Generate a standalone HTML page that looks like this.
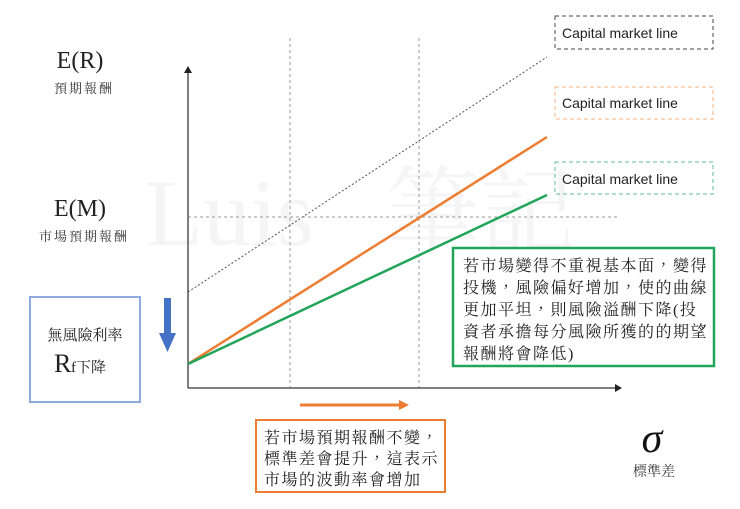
<!DOCTYPE html>
<html><head><meta charset="utf-8"><style>
html,body{margin:0;padding:0;background:#fff;}
svg text{font-family:"Liberation Serif","Noto Serif CJK TC","Noto Serif CJK SC",serif;}
.s{font-family:"Liberation Sans","Noto Sans CJK TC",sans-serif !important;}
</style></head><body>
<svg width="740" height="504" viewBox="0 0 740 504" xmlns="http://www.w3.org/2000/svg">
<rect width="740" height="504" fill="#fff"/>
<text x="145" y="245" font-size="95" fill="#f5f5f5">Luis</text>
<text x="385" y="245" font-size="95" fill="#f5f5f5">筆記</text>
<line x1="290" y1="38" x2="290" y2="388" stroke="#999" stroke-width="1" stroke-dasharray="3,3"/>
<line x1="419" y1="38" x2="419" y2="388" stroke="#999" stroke-width="1" stroke-dasharray="3,3"/>
<line x1="188" y1="217" x2="617" y2="217" stroke="#999" stroke-width="1" stroke-dasharray="3,3"/>
<line x1="188" y1="388" x2="188" y2="72" stroke="#555" stroke-width="1.5"/>
<polygon points="188,66 184,73 192,73" fill="#222"/>
<line x1="188" y1="388" x2="616" y2="388" stroke="#555" stroke-width="1.5"/>
<polygon points="622,388 615,384 615,392" fill="#222"/>
<line x1="188" y1="292" x2="547" y2="57" stroke="#555" stroke-width="1" stroke-dasharray="2,2"/>
<line x1="188" y1="364" x2="547" y2="137" stroke="#ED7D31" stroke-width="2.5"/>
<line x1="188" y1="364" x2="547" y2="195" stroke="#22A55A" stroke-width="2.5"/>
<rect x="555" y="16" width="158" height="33" fill="none" stroke="#444" stroke-dasharray="4,3"/>
<text x="562" y="38" font-size="14" class="s" fill="#222">Capital market line</text>
<rect x="555" y="87" width="158" height="32" fill="none" stroke="#F4B183" stroke-dasharray="4,3"/>
<text x="562" y="108" font-size="14" class="s" fill="#222">Capital market line</text>
<rect x="555" y="162" width="158" height="32" fill="none" stroke="#5FB89A" stroke-dasharray="4,3"/>
<text x="562" y="184" font-size="14" class="s" fill="#222">Capital market line</text>
<text x="80" y="68" font-size="24" text-anchor="middle" fill="#222">E(R)</text>
<text x="84" y="93" font-size="13" text-anchor="middle" fill="#333" letter-spacing="2">預期報酬</text>
<text x="80" y="216" font-size="24" text-anchor="middle" fill="#222">E(M)</text>
<text x="84" y="241" font-size="13" text-anchor="middle" fill="#333" letter-spacing="2">市場預期報酬</text>
<rect x="30" y="297" width="110" height="105" fill="none" stroke="#8FAADC" stroke-width="2"/>
<text x="85" y="340" font-size="15" text-anchor="middle" fill="#222">無風險利率</text>
<text x="54" y="372" font-size="26" fill="#222">R</text><text x="71" y="372" font-size="15" fill="#222">f下降</text>
<rect x="164" y="298" width="7" height="36" fill="#4472C4"/>
<polygon points="159,333 176,333 167.5,352" fill="#4472C4"/>
<line x1="300" y1="405" x2="400" y2="405" stroke="#ED7D31" stroke-width="3"/>
<polygon points="409,405 399,400 399,410" fill="#ED7D31"/>
<rect x="256" y="420" width="189" height="72" fill="#fff" stroke="#ED7D31" stroke-width="2"/>
<text x="264" y="443" font-size="16" fill="#222" letter-spacing="1.5">若市場預期報酬不變，</text>
<text x="264" y="464" font-size="16" fill="#222" letter-spacing="1.5">標準差會提升，這表示</text>
<text x="264" y="485" font-size="16" fill="#222" letter-spacing="1.5">市場的波動率會增加</text>
<rect x="453" y="248" width="261" height="118" fill="#fff" stroke="#22A55A" stroke-width="2.5"/>
<text x="463" y="271" font-size="16" fill="#222" letter-spacing="1.5">若市場變得不重視基本面，變得</text>
<text x="463" y="293" font-size="16" fill="#222" letter-spacing="1.5">投機，風險偏好增加，使的曲線</text>
<text x="463" y="315" font-size="16" fill="#222" letter-spacing="1.5">更加平坦，則風險溢酬下降(投</text>
<text x="463" y="337" font-size="16" fill="#222" letter-spacing="1.5">資者承擔每分風險所獲的的期望</text>
<text x="463" y="359" font-size="16" fill="#222" letter-spacing="1.5">報酬將會降低)</text>
<text x="652" y="452" font-size="42" font-style="italic" text-anchor="middle" fill="#111">σ</text>
<text x="654" y="476" font-size="14" text-anchor="middle" fill="#333">標準差</text>
</svg>
</body></html>
